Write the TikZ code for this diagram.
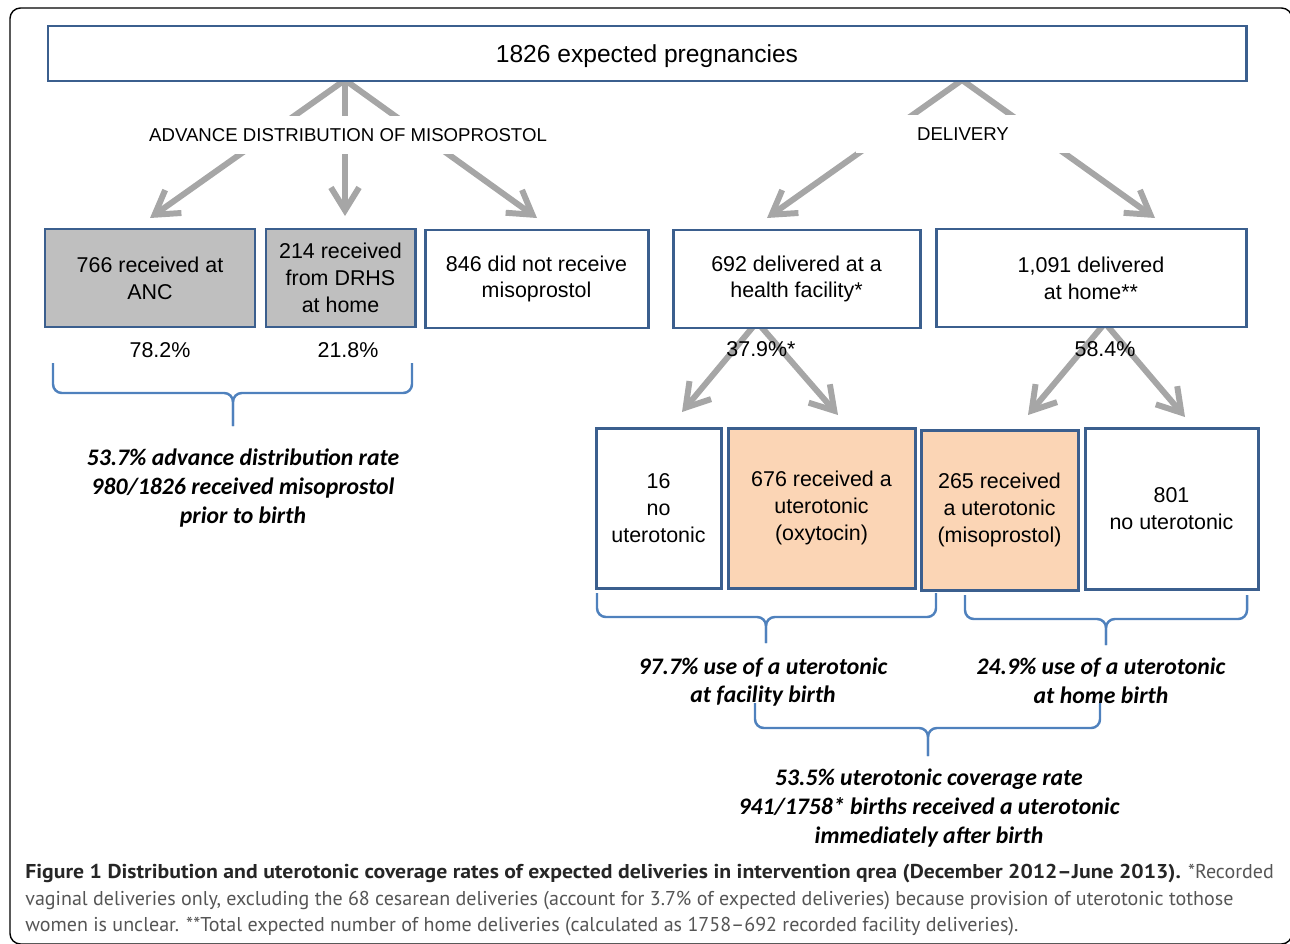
\documentclass[tikz,border=0pt]{standalone}
\usepackage{fontspec}
\setmainfont{Liberation Sans}
\newfontfamily\calib{Carlito}
\newfontfamily\capfont[BoldFeatures={FakeStretch=1.085}]{PT Sans}
\usetikzlibrary{arrows.meta}
\definecolor{boxblue}{HTML}{3B5F8E}
\definecolor{braceblue}{HTML}{4F81BD}
\definecolor{arrowgray}{HTML}{A6A6A6}
\definecolor{boxgray}{HTML}{BFBFBF}
\definecolor{peach}{HTML}{FBD5B5}
\definecolor{captxt}{HTML}{555555}
\definecolor{capbold}{HTML}{262626}
\begin{document}
\begin{tikzpicture}[x=0.02cm,y=-0.02cm,
  box/.style={draw=boxblue, line width=1.7pt, fill=white, align=center, inner sep=0pt,
    font=\fontsize{12.2}{15.3}\selectfont},
  gbox/.style={box, fill=boxgray},
  pbox/.style={box, fill=peach},
  bx/.style 2 args={minimum width=#1*0.02cm, minimum height=#2*0.02cm},
  arr/.style={draw=arrowgray, line width=3.4pt, -{Straight Barb[length=13pt,width=16pt]}},
  brc/.style={draw=braceblue, line width=1.4pt, rounded corners=5pt},
  lbl/.style={font=\fontsize{10.6}{13}\selectfont, fill=white, inner sep=0pt},
  pct/.style={font=\fontsize{12.2}{15}\selectfont, inner sep=0pt},
  note/.style={font=\calib\bfseries\itshape\fontsize{13.5}{16.4}\selectfont, align=center, inner sep=0pt}
]
\useasboundingbox (0,0) rectangle (1290,943);
% outer frame
\draw[line width=0.8pt, rounded corners=6pt] (10,8) rectangle (1292,944);

% arrow coordinates
\coordinate (apL) at (345,80);
\coordinate (tL1) at (150,218);
\coordinate (tL2) at (345,216);
\coordinate (tL3) at (537,218);
\coordinate (apR) at (962,80);
\coordinate (tR1) at (767,218);
\coordinate (tR2) at (1155,218);
\coordinate (apD) at (757,322);
\coordinate (tD1) at (682,412);
\coordinate (tD2) at (838,415);
\coordinate (apE) at (1105,323);
\coordinate (tE1) at (1028,415);
\coordinate (tE2) at (1185,417);

\draw[arr] (apL) -- (tL1);
\draw[arr] (apL) -- (tL2);
\draw[arr] (apL) -- (tL3);
\draw[arr] (apR) -- (tR1);
\draw[arr] (apR) -- (tR2);
\draw[arr] (apD) -- (tD1);
\draw[arr] (apD) -- (tD2);
\draw[arr] (apE) -- (tE1);
\draw[arr] (apE) -- (tE2);

% boxes
\node[box, bx={1198}{55}, font=\fontsize{14}{17}\selectfont, text depth=0pt] (top) at (647,53.5) {1826 expected pregnancies};
\node[gbox, bx={210}{98}] (anc) at (150,278) {766 received at\\ANC};
\node[gbox, bx={149}{98}] (drhs) at (340.5,278) {214 received\\from DRHS\\at home};
\node[box, bx={223}{98}] (none) at (536.5,279) {846 did not receive\\misoprostol};
\node[box, bx={247}{98}] (fac) at (796.5,279) {692 delivered at a\\health facility*};
\node[box, bx={310}{98}] (home) at (1091,278) {1,091 delivered\\at home**};

\node[box, bx={125}{160}] (f16) at (658.5,508) {16\\no\\uterotonic};
\node[pbox, bx={187}{160}] (oxy) at (821.5,508) {676 received a\\uterotonic\\(oxytocin)};
\node[pbox, bx={157}{160}] (miso) at (999.5,510) {265 received\\a uterotonic\\(misoprostol)};
\node[box, bx={173}{161}] (h801) at (1171.5,508.5) {801\\no uterotonic};

% labels over arrows
\node[lbl, minimum height=38*0.02cm] (adv) at (348,135) {ADVANCE DISTRIBUTION OF MISOPROSTOL};
\node[lbl, minimum height=38*0.02cm, minimum width=215*0.02cm] (del) at (963,134) {DELIVERY};

% percentages
\node[pct] (p782) at (160,350) {78.2\%};
\node[pct] (p218) at (348,350) {21.8\%};
\node[pct] (p379) at (761,349) {37.9\%*};
\node[pct] (p584) at (1105,349) {58.4\%};

% braces
\draw[brc] (53,363) -- (53,393) -- (233,393) -- (233,426);
\draw[brc] (412,363) -- (412,393) -- (233,393) -- (233,426);
\draw[brc] (597,593) -- (597,617) -- (766,617) -- (766,643);
\draw[brc] (936,593) -- (936,617) -- (766,617) -- (766,643);
\draw[brc] (965,595) -- (965,619) -- (1106,619) -- (1106,645);
\draw[brc] (1247,595) -- (1247,619) -- (1106,619) -- (1106,645);
\draw[brc] (755,703) -- (755,728) -- (928,728) -- (928,756);
\draw[brc] (1100,703) -- (1100,728) -- (928,728) -- (928,756);

% notes
\node[note] (n1) at (243,488) {53.7\% advance distribution rate\\980/1826 received misoprostol\\prior to birth};
\node[note] (n2) at (763,682) {97.7\% use of a uterotonic\\at facility birth};
\node[note] (n3) at (1101,681) {24.9\% use of a uterotonic\\at home birth};
\node[note] (n4) at (929,808) {53.5\% uterotonic coverage rate\\941/1758* births received a uterotonic\\immediately after birth};

% caption
\node[anchor=north west, inner sep=0pt, align=left, text=captxt,
  font=\capfont\fontsize{11.4}{15}\selectfont] (cap) at (25,864)
{{\bfseries\color{capbold}Figure 1 Distribution and uterotonic coverage rates of expected deliveries in intervention qrea (December 2012–June 2013).} *Recorded\\
vaginal deliveries only, excluding the 68 cesarean deliveries (account for 3.7\% of expected deliveries) because provision of uterotonic tothose\\
women is unclear. **Total expected number of home deliveries (calculated as 1758–692 recorded facility deliveries).};
\end{tikzpicture}
\end{document}
